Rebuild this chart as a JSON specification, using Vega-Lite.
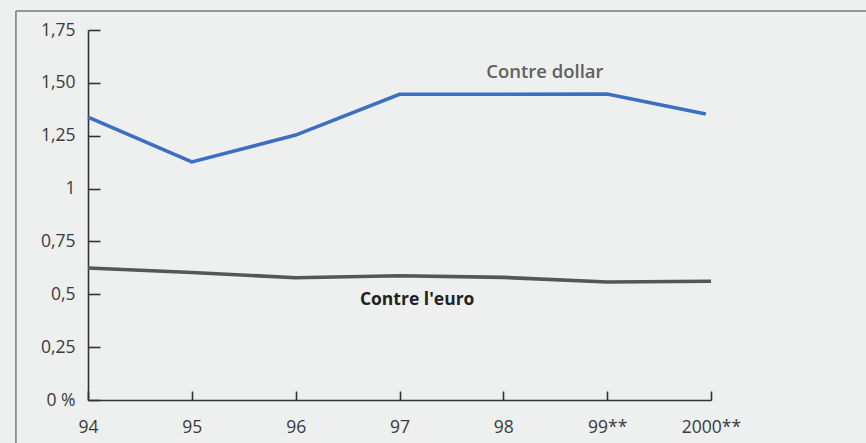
{
  "$schema": "https://vega.github.io/schema/vega-lite/v6.json",
  "width": 623,
  "height": 370,
  "autosize": "none",
  "padding": {"left": 88, "top": 30, "right": 155, "bottom": 43},
  "background": "#eef0ef",
  "config": {
    "view": {"stroke": null},
    "font": "Open Sans",
    "axis": {"labelFont": "Open Sans", "labelFontSize": 17.5, "labelColor": "#3a3a3a", "domainColor": "#333333", "tickColor": "#333333", "domainWidth": 1.6, "tickWidth": 1.6, "grid": false, "title": null}
  },
  "datasets": {
    "series": [
      {"annee": 94, "serie": "Contre dollar", "valeur": 1.338},
      {"annee": 95, "serie": "Contre dollar", "valeur": 1.126},
      {"annee": 96, "serie": "Contre dollar", "valeur": 1.253},
      {"annee": 97, "serie": "Contre dollar", "valeur": 1.446},
      {"annee": 98, "serie": "Contre dollar", "valeur": 1.446},
      {"annee": 99, "serie": "Contre dollar", "valeur": 1.447},
      {"annee": 99.95, "serie": "Contre dollar", "valeur": 1.353},
      {"annee": 94, "serie": "Contre l'euro", "valeur": 0.624},
      {"annee": 95, "serie": "Contre l'euro", "valeur": 0.603},
      {"annee": 96, "serie": "Contre l'euro", "valeur": 0.578},
      {"annee": 97, "serie": "Contre l'euro", "valeur": 0.588},
      {"annee": 98, "serie": "Contre l'euro", "valeur": 0.58},
      {"annee": 99, "serie": "Contre l'euro", "valeur": 0.558},
      {"annee": 100, "serie": "Contre l'euro", "valeur": 0.562}
    ],
    "labels": [
      {"annee": 98.4, "valeur": 1.55, "texte": "Contre dollar", "serie": "Contre dollar"},
      {"annee": 97.17, "valeur": 0.473, "texte": "Contre l'euro", "serie": "Contre l'euro"}
    ]
  },
  "layer": [
    {
      "data": {"values": [{}]},
      "mark": {"type": "rule", "color": "#7a7a7a", "strokeWidth": 1.5, "clip": false},
      "encoding": {
        "x": {"datum": 93.306, "type": "quantitative"},
        "y": {"datum": 1.84, "type": "quantitative"},
        "y2": {"datum": -0.25}
      }
    },
    {
      "data": {"values": [{}]},
      "mark": {"type": "rule", "color": "#7a7a7a", "strokeWidth": 1.5, "clip": false},
      "encoding": {
        "y": {"datum": 1.84, "type": "quantitative"},
        "x": {"datum": 93.306, "type": "quantitative"},
        "x2": {"datum": 102}
      }
    },
    {
      "data": {"name": "series"},
      "mark": {"type": "line", "strokeWidth": 3.6, "clip": false},
      "encoding": {
        "x": {
          "field": "annee", "type": "quantitative",
          "scale": {"domain": [94, 100], "nice": false, "zero": false},
          "axis": {"values": [94, 95, 96, 97, 98, 99, 100], "tickSize": -9, "labelPadding": 27, "labelExpr": "datum.value==99?'99**':datum.value==100?'2000**':format(datum.value,'d')", "labelFlush": false, "labelOverlap": false}
        },
        "y": {
          "field": "valeur", "type": "quantitative",
          "scale": {"domain": [0, 1.75], "nice": false},
          "axis": {"values": [0, 0.25, 0.5, 0.75, 1, 1.25, 1.5, 1.75], "tickSize": -12, "labelPadding": 25, "labelExpr": "datum.value==0?'0 %':datum.value==0.5?'0,5':datum.value==1?'1':replace(format(datum.value,'.2f'),'.',',')", "labelOverlap": false}
        },
        "color": {"field": "serie", "type": "nominal", "scale": {"domain": ["Contre dollar", "Contre l'euro"], "range": ["#3c6fc2", "#555752"]}, "legend": null}
      }
    },
    {
      "data": {"name": "labels"},
      "transform": [{"filter": "datum.serie == 'Contre dollar'"}],
      "mark": {"type": "text", "fontSize": 18.5, "fontWeight": 600, "color": "#606060", "align": "center", "baseline": "middle"},
      "encoding": {
        "x": {"field": "annee", "type": "quantitative"},
        "y": {"field": "valeur", "type": "quantitative"},
        "text": {"field": "texte"}
      }
    },
    {
      "data": {"name": "labels"},
      "transform": [{"filter": "datum.serie == \"Contre l'euro\""}],
      "mark": {"type": "text", "fontSize": 17.5, "fontWeight": "bold", "color": "#222222", "align": "center", "baseline": "middle"},
      "encoding": {
        "x": {"field": "annee", "type": "quantitative"},
        "y": {"field": "valeur", "type": "quantitative"},
        "text": {"field": "texte"}
      }
    }
  ]
}
